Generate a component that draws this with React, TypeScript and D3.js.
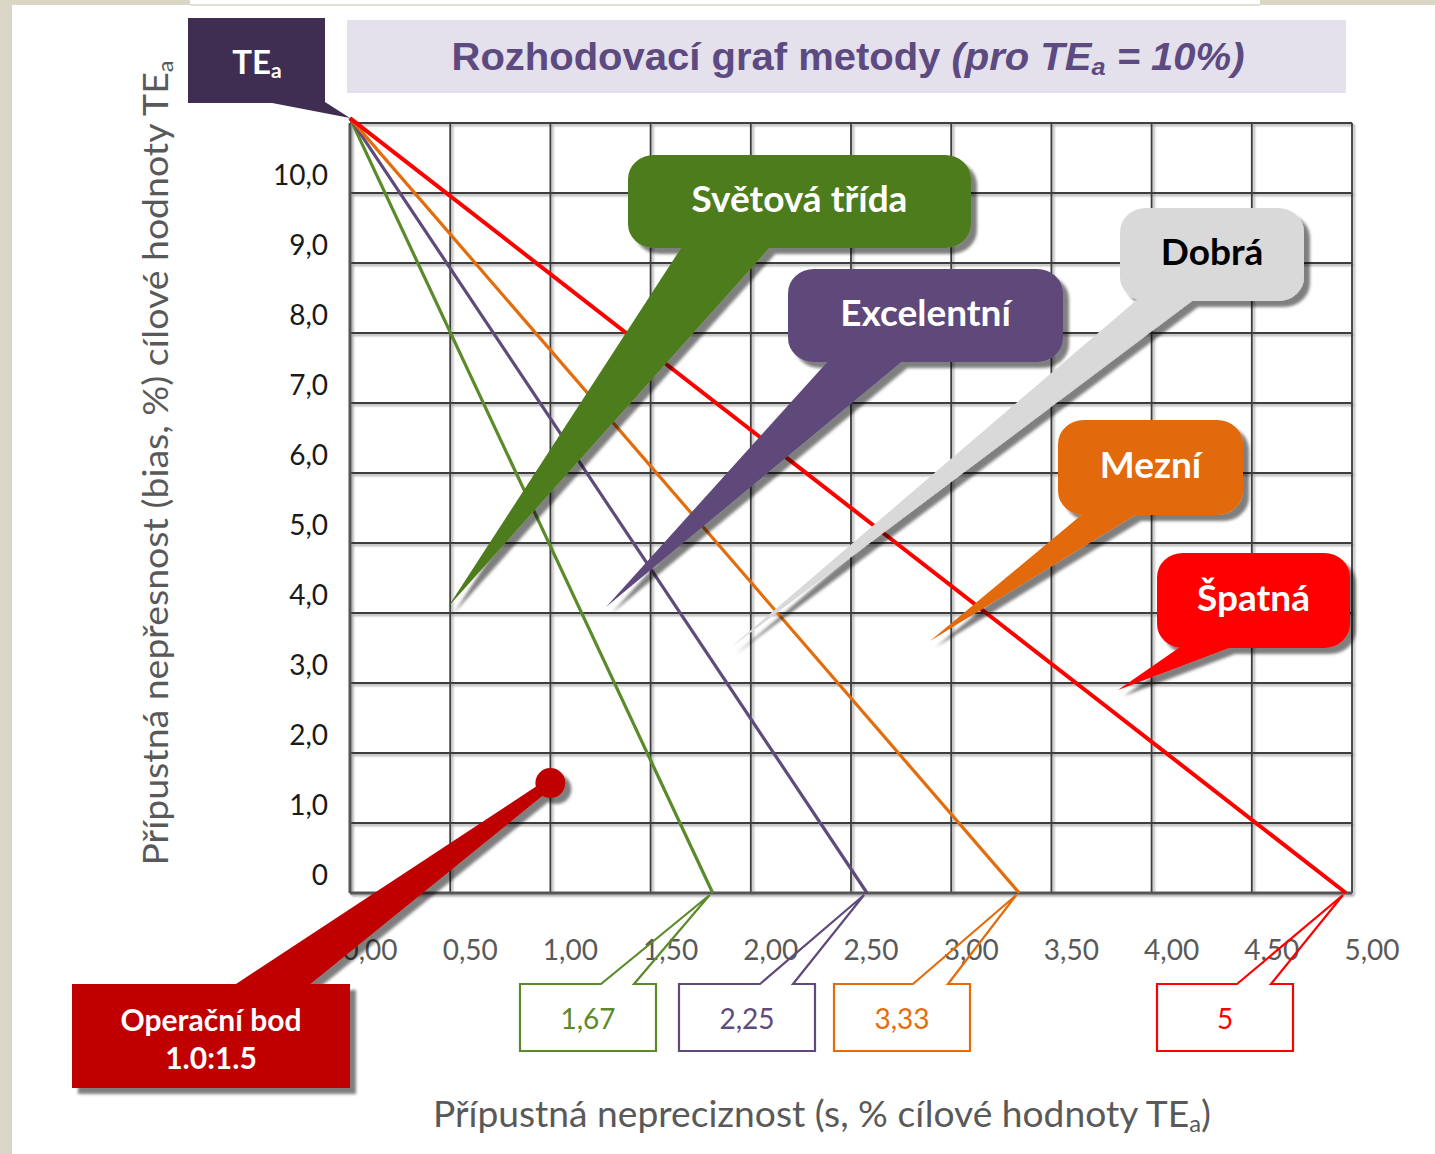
import * as d3 from "d3";

// values
const yTicks = [0, 1, 2, 3, 4, 5, 6, 7, 8, 9, 10];
const xTicks = [0, 0.5, 1, 1.5, 2, 2.5, 3, 3.5, 4, 4.5, 5];
const teaBias = 11.07; // all limit lines start here (at s = 0)
const limitLabels = ["1,67", "2,25", "3,33", "5"];
const limitIntercepts = [1.81, 2.58, 3.34, 4.97]; // s where each line reaches bias 0
const limitColors = ["#5a8a2a", "#604a7b", "#e46c0a", "#ff0000"];
const qualityLabels = ["Světová třída", "Excelentní", "Dobrá", "Mezní", "Špatná"];
const operatingPoint = { s: 1.0, bias: 1.57 };

const W = 1435;
const H = 1154;
const FONT = "Lato, 'Open Sans', 'DejaVu Sans', sans-serif";

// callout bubble layout (pixels)
const bubbleLayout = [
  { fill: "#4e7b1d", text: "#fff", x: 628, y: 155, w: 343, h: 93, tail: [683, 772], tip: [448, 607] },
  { fill: "#5f497a", text: "#fff", x: 788, y: 269, w: 275, h: 93, tail: [830, 905], tip: [606, 607] },
  { fill: "#d9d9d9", text: "#000", x: 1120, y: 208, w: 184, h: 93, tail: [1139, 1196], tip: [730, 648] },
  { fill: "#e26b0a", text: "#fff", x: 1058, y: 420, w: 185, h: 95, tail: [1085, 1140], tip: [930, 641] },
  { fill: "#ff0000", text: "#fff", x: 1157, y: 553, w: 193, h: 95, tail: [1183, 1237], tip: [1118, 690] },
];
const limitBoxX = [520, 679, 834, 1157];
const limitTailX = [[601, 634], [760, 793], [913, 948], [1237, 1271]];

const fmt = (v: number, digits: number) => v.toFixed(digits).replace(".", ",");

export default function App() {
  const x = d3.scaleLinear().domain([0, 5]).range([350, 1352]);
  const y = d3.scaleLinear().domain([0, 11]).range([893, 123]);
  const line = d3.line<[number, number]>().x((d) => x(d[0])).y((d) => y(d[1]));

  const gridX = d3.range(0, 5.001, 0.5);
  const gridY = d3.range(0, 11.001, 1);

  const opX = x(operatingPoint.s);
  const opY = y(operatingPoint.bias);

  return (
    <svg width={W} height={H} style={{ position: "absolute", left: 0, top: 0, background: "#fff" }}>
      <defs>
        <filter id="sh" x="-20%" y="-20%" width="140%" height="140%">
          <feDropShadow dx="6" dy="6" stdDeviation="1.5" floodColor="#000" floodOpacity="0.5" />
        </filter>
        <filter id="shs" x="-20%" y="-20%" width="140%" height="140%">
          <feDropShadow dx="2" dy="2" stdDeviation="1" floodColor="#000" floodOpacity="0.35" />
        </filter>
      </defs>

      {/* page edges */}
      <rect x={0} y={0} width={12} height={H} fill="#d9d6c5" />
      <rect x={0} y={0} width={190} height={5} fill="#d9d6c5" />
      <rect x={1260} y={0} width={W - 1260} height={5} fill="#d9d6c5" />
      <line x1={190} x2={1260} y1={5} y2={5} stroke="#d6d4c8" strokeWidth={1.5} />

      {/* title */}
      <rect x={347} y={20} width={999} height={73} fill="#e4e0ec" />
      <text
        x={848}
        y={70}
        textAnchor="middle"
        fontFamily="'Liberation Sans Narrow', 'Liberation Sans', Arial, sans-serif"
        fontWeight="bold"
        fontSize={38}
        fill="#5c4a80"
        textLength={793}
        lengthAdjust="spacingAndGlyphs"
      >
        Rozhodovací graf metody{" "}
        <tspan fontStyle="italic">(pro TE</tspan>
        <tspan fontStyle="italic" fontSize={24} baselineShift={-5}>a</tspan>
        <tspan fontStyle="italic"> = 10%)</tspan>
      </text>

      {/* TEa marker */}
      <g>
        <rect x={188} y={18} width={137} height={85} fill="#3f2e52" />
        <polygon points={`267,102 325,102 ${x(0)},${y(teaBias)}`} fill="#3f2e52" />
        <text x={257} y={74} textAnchor="middle" fontFamily={FONT} fontWeight="bold" fontSize={33} fill="#fff">
          TE<tspan fontSize={21} baselineShift={-4}>a</tspan>
        </text>
      </g>

      {/* grid */}
      <g filter="url(#shs)">
        {gridX.map((v) => (
          <line key={"gx" + v} x1={x(v)} x2={x(v)} y1={y(11)} y2={y(0)} stroke="#3c3c3c" strokeWidth={1.8} />
        ))}
        {gridY.map((v) => (
          <line key={"gy" + v} x1={x(0)} x2={x(5)} y1={y(v)} y2={y(v)} stroke="#3c3c3c" strokeWidth={1.8} />
        ))}
        <line x1={x(0)} x2={x(0)} y1={y(11)} y2={y(0)} stroke="#555" strokeWidth={3} />
        <line x1={x(0)} x2={x(5)} y1={y(0)} y2={y(0)} stroke="#555" strokeWidth={3} />
      </g>

      {/* y tick labels */}
      {yTicks.map((v) => (
        <text key={"yl" + v} x={328} y={y(v) - 18} dy="0.35em" textAnchor="end" fontFamily={FONT} fontSize={28} fill="#1a1a1a">
          {v === 0 ? "0" : fmt(v, 1)}
        </text>
      ))}

      {/* x tick labels */}
      {xTicks.map((v) => (
        <text key={"xl" + v} x={x(v) + 20} y={950} dy="0.35em" textAnchor="middle" fontFamily={FONT} fontSize={28} fill="#595959">
          {fmt(v, 2)}
        </text>
      ))}

      {/* limit lines */}
      {limitIntercepts.map((s, i) => (
        <path
          key={"ln" + i}
          d={line([[0, teaBias], [s, 0]]) ?? ""}
          fill="none"
          stroke={limitColors[i]}
          strokeWidth={i === 3 ? 4 : 3.2}
        />
      ))}

      {/* limit value boxes */}
      {limitIntercepts.map((s, i) => {
        const l = limitBoxX[i];
        const r = l + 136;
        const t = 984;
        const b = 1051;
        const [a1, a2] = limitTailX[i];
        const tip = x(s);
        return (
          <g key={"lb" + i}>
            <path
              d={`M${l},${t}L${a1},${t}L${tip - 3},${y(0) + 2}L${a2},${t}L${r},${t}L${r},${b}L${l},${b}Z`}
              fill="none"
              stroke={limitColors[i]}
              strokeWidth={2.2}
              strokeLinejoin="miter"
            />
            <text x={(l + r) / 2} y={1019} dy="0.35em" textAnchor="middle" fontFamily={FONT} fontSize={28} fill={limitColors[i]}>
              {limitLabels[i]}
            </text>
          </g>
        );
      })}

      {/* quality callouts */}
      {qualityLabels.map((lab, i) => {
        const b = bubbleLayout[i];
        const bottom = b.y + b.h - 3;
        return (
          <g key={"cb" + i}>
            <g filter="url(#sh)">
              <rect x={b.x} y={b.y} width={b.w} height={b.h} rx={26} ry={24} fill={b.fill} />
              <polygon points={`${b.tail[0]},${bottom} ${b.tail[1]},${bottom} ${b.tip[0]},${b.tip[1]}`} fill={b.fill} />
            </g>
            <text
              x={b.x + b.w / 2}
              y={b.y + b.h / 2 - 2}
              dy="0.35em"
              textAnchor="middle"
              fontFamily={FONT}
              fontWeight="bold"
              fontSize={37}
              fill={b.text}
            >
              {lab}
            </text>
          </g>
        );
      })}

      {/* operating point */}
      <g filter="url(#sh)">
        <rect x={72} y={984} width={278} height={104} fill="#c00000" />
        <polygon points={`233,986 ${opX - 3},${opY - 4} ${opX + 3},${opY + 4} 308,986`} fill="#c00000" />
        <circle cx={opX} cy={opY} r={15} fill="#c00000" />
      </g>
      <text x={211} y={1020} dy="0.35em" textAnchor="middle" fontFamily={FONT} fontWeight="bold" fontSize={30} fill="#fff">
        Operační bod
      </text>
      <text x={211} y={1058} dy="0.35em" textAnchor="middle" fontFamily={FONT} fontWeight="bold" fontSize={30} fill="#fff">
        {`${operatingPoint.s.toFixed(1)}:1.5`}
      </text>

      {/* axis titles */}
      <text
        transform="translate(168,463) rotate(-90)"
        textAnchor="middle"
        fontFamily={FONT}
        fontSize={35}
        fill="#595959"
        textLength={805}
        lengthAdjust="spacingAndGlyphs"
      >
        Přípustná nepřesnost (bias, %) cílové hodnoty TE
        <tspan fontSize={22} baselineShift={-5}>a</tspan>
      </text>
      <text
        x={822}
        y={1127}
        textAnchor="middle"
        fontFamily={FONT}
        fontSize={36}
        fill="#595959"
        textLength={778}
        lengthAdjust="spacingAndGlyphs"
      >
        Přípustná nepreciznost (s, % cílové hodnoty TE
        <tspan fontSize={23} baselineShift={-5}>a</tspan>)
      </text>
    </svg>
  );
}
